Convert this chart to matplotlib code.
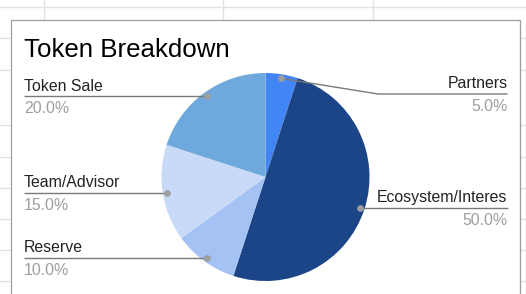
import matplotlib
matplotlib.use('Agg')
import matplotlib.pyplot as plt
import numpy as np
from matplotlib.patches import Rectangle

plt.rcParams['font.family'] = ['Liberation Sans', 'DejaVu Sans']

# --------        data        --------
labels = ['Partners', 'Ecosystem/Interes', 'Reserve', 'Team/Advisor', 'Token Sale']
shares = [5.0, 50.0, 10.0, 15.0, 20.0]
colors = ['#4285f4', '#1c4587', '#a4c2f4', '#c9daf8', '#6fa8dc']
title = 'Token Breakdown'

# --------        layout (pixels)        --------
W, H = 526, 294
CX, CY, R = 265.5, 177.0, 104.0
LEFT_X, RIGHT_X = 24.0, 507.5


def up(y):
    return H - y


fig = plt.figure(figsize=(W / 100, H / 100), dpi=100)
ax = fig.add_axes([0, 0, 1, 1])

# spreadsheet grid behind the chart
grid = '#e2e2e2'
for y in [7, 38, 70, 125, 157, 188, 219, 250, 281]:
    ax.plot([0, W], [up(y), up(y)], color=grid, lw=1.0, zorder=0)
for x in [44, 223, 373]:
    ax.plot([x, x], [up(0), up(20)], color=grid, lw=1.0, zorder=0)

# chart card
ax.add_patch(Rectangle((11, up(300)), 509, 300 - 19.5,
                       facecolor='white', edgecolor='#9e9e9e', lw=0.9, zorder=1))

ax.text(LEFT_X, up(57.3), title, fontsize=18.6, color='#000000', va='baseline', zorder=5)

wedges, _ = ax.pie(
    shares, colors=colors, startangle=90, counterclock=False,
    center=(CX, up(CY)), radius=R, wedgeprops=dict(linewidth=0, zorder=2),
)

# --------        labels        --------
line_color = '#7a7a7a'
dot_color = '#9e9e9e'
pct_color = '#9e9e9e'
elbow = {'Partners': (378.0, 94.0)}

for wedge, name, value in zip(wedges, labels, shares):
    mid = np.deg2rad((wedge.theta1 + wedge.theta2) / 2)
    dx = CX + 0.96 * R * np.cos(mid)
    dy = up(CY) + 0.96 * R * np.sin(mid)
    right = np.cos(mid) > 0

    if name in elbow:
        ex, ey = elbow[name]
        xs, ys = [dx, ex, RIGHT_X], [dy, up(ey), up(ey)]
        ly = up(ey)
    else:
        end = RIGHT_X if right else LEFT_X
        xs, ys = [dx, end], [dy, dy]
        ly = dy

    ax.plot(xs, ys, color=line_color, lw=1.0, zorder=3, solid_capstyle='butt')
    ax.plot(dx, dy, 'o', color=dot_color, markersize=3.8, zorder=4)

    tx = RIGHT_X if right else LEFT_X
    ha = 'right' if right else 'left'
    ax.text(tx, ly + 5.5, name, fontsize=11.4, color='#222222', ha=ha, va='baseline', zorder=5)
    ax.text(tx, ly - 17.0, f'{value:.1f}%', fontsize=11.4, color=pct_color, ha=ha, va='baseline', zorder=5)

ax.set_xlim(0, W)
ax.set_ylim(0, H)
ax.set_aspect('auto')
ax.axis('off')

fig.savefig('out.png', dpi=100)
